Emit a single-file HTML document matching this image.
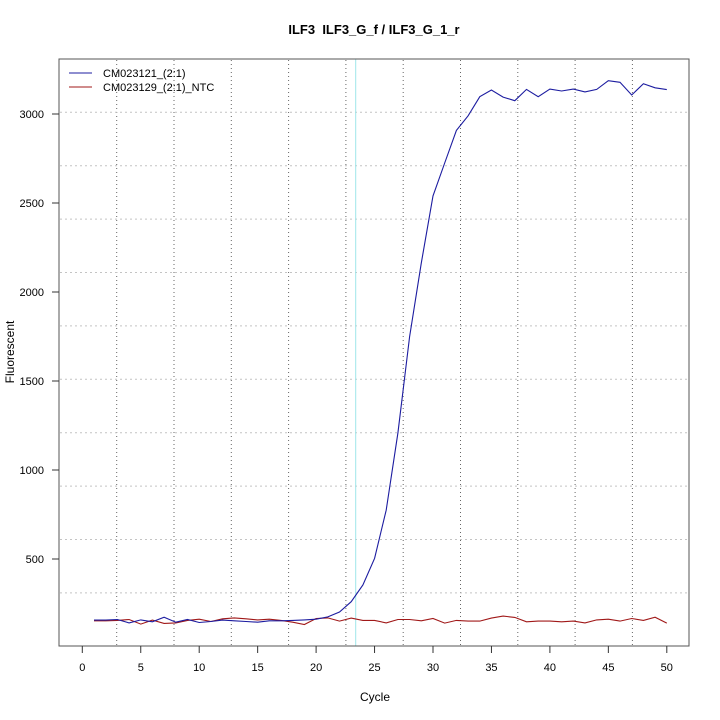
<!DOCTYPE html>
<html><head><meta charset="utf-8"><style>
body{margin:0;background:#fff}
svg{display:block;font-family:"Liberation Sans",sans-serif}
</style></head><body>
<svg id="chart" width="720" height="720" viewBox="0 0 720 720">
<text x="374" y="34" text-anchor="middle" font-size="13" font-weight="bold" style="white-space:pre">ILF3&#160;&#160;ILF3_G_f / ILF3_G_1_r</text>
<g id="grid"></g>
<line x1="355.7" y1="59" x2="355.7" y2="646" stroke="#9fe6ea" stroke-width="1"/>
<rect x="59" y="59" width="630" height="587" fill="none" stroke="#555" stroke-width="1"/>
<g id="axes" font-size="11"></g>
<g id="series"></g>
<g font-size="11">
<line x1="69" y1="73" x2="92" y2="73" stroke="#1c1ca0"/>
<text x="103" y="77">CM023121_(2:1)</text>
<line x1="69" y1="87" x2="92" y2="87" stroke="#a01818"/>
<text x="103" y="91">CM023129_(2:1)_NTC</text>
</g>
<text x="375" y="701" text-anchor="middle" font-size="12">Cycle</text>
<text transform="translate(14,352) rotate(-90)" text-anchor="middle" font-size="12">Fluorescent</text>
</svg>
<script>
const cycles=[];for(let c=1;c<=50;c++)cycles.push(c);
const sampleValues=[157,157,160,141,158,147,173,145,160,143,149,157,153,149,145,153,153,155,158,162,175,202,260,354,504,775,1208,1749,2163,2540,2725,2908,2990,3097,3135,3095,3075,3138,3097,3140,3129,3140,3124,3138,3187,3178,3107,3170,3147,3137];
const ntcValues=[153,153,155,160,134,157,138,141,155,162,149,164,169,164,158,162,155,145,132,166,169,151,168,155,155,141,160,160,153,166,140,155,151,151,168,179,172,147,151,151,147,151,141,158,162,151,166,155,173,140];
const xTicks=[0,5,10,15,20,25,30,35,40,45,50];
const yTicks=[500,1000,1500,2000,2500,3000];
const xs=c=>82.3+11.69*c;
const ys=v=>559-(v-500)*0.178;
const NS="http://www.w3.org/2000/svg";
function mk(t,a,p){const e=document.createElementNS(NS,t);for(const k in a)e.setAttribute(k,a[k]);p.appendChild(e);return e;}
const grid=document.getElementById('grid'),axes=document.getElementById('axes'),ser=document.getElementById('series');
for(let k=0;k<10;k++){const x=116.7+57.3*k;const l=mk('line',{x1:x,y1:60,x2:x,y2:645,stroke:'#666','stroke-dasharray':'1,3'},grid);

}
for(let k=0;k<10;k++){const y=112.3+53.4*k;const l=mk('line',{x1:60,y1:y,x2:688,y2:y,stroke:'#c4c4c4','stroke-dasharray':'2,3'},grid);

}
xTicks.forEach(t=>{const x=xs(t);const l=mk('line',{x1:x,y1:646,x2:x,y2:653,stroke:'#333'},axes);


const tx=mk('text',{x:x,y:671,'text-anchor':'middle'},axes);tx.textContent=t;

});
yTicks.forEach(t=>{const y=ys(t);const l=mk('line',{x1:52,y1:y,x2:59,y2:y,stroke:'#333'},axes);


const tx=mk('text',{x:44,y:y+4,'text-anchor':'end'},axes);tx.textContent=t;

});
function line(vals,color,name){const pts=vals.map((v,i)=>xs(cycles[i]).toFixed(1)+','+ys(v).toFixed(1)).join(' ');
const p=mk('polyline',{points:pts,fill:'none',stroke:color,'stroke-width':1.1},ser);

}
line(ntcValues,'#a01818','ntc-series-line');
line(sampleValues,'#1c1ca0','sample-series-line');
</script>
</body></html>
